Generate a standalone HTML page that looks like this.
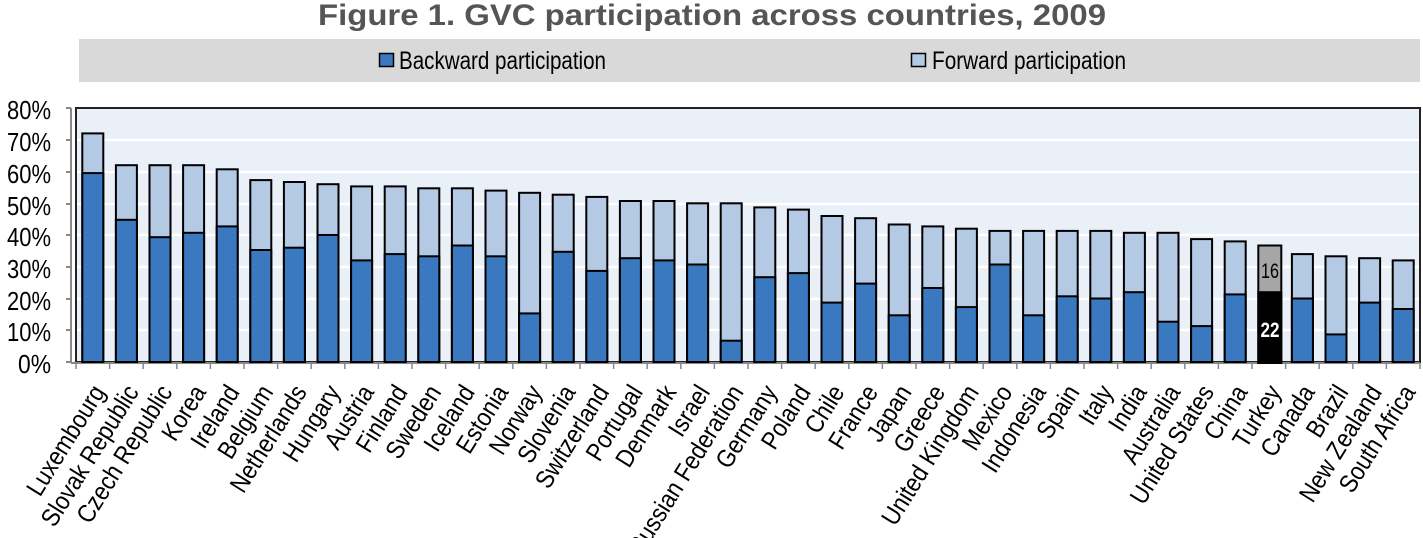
<!DOCTYPE html>
<html><head><meta charset="utf-8"><style>
html,body{margin:0;padding:0;background:#fff;}
svg{display:block;font-family:"Liberation Sans",Arial,sans-serif;}
</style></head><body>
<svg width="1423" height="538" viewBox="0 0 1423 538" xmlns="http://www.w3.org/2000/svg">
<text x="712" y="25" text-anchor="middle" font-size="30" font-weight="bold" fill="#555" textLength="788" lengthAdjust="spacingAndGlyphs">Figure 1. GVC participation across countries, 2009</text>
<rect x="79" y="39" width="1341" height="43" fill="#d9d9d9"/>
<rect x="379.5" y="53.5" width="14" height="13" fill="#3a78bf" stroke="#000" stroke-width="1.5"/>
<text x="399" y="69" font-size="25" fill="#000" textLength="207" lengthAdjust="spacingAndGlyphs">Backward participation</text>
<rect x="911.5" y="53.5" width="14" height="13" fill="#b4c9e4" stroke="#000" stroke-width="1.5"/>
<text x="932" y="69" font-size="25" fill="#000" textLength="194" lengthAdjust="spacingAndGlyphs">Forward participation</text>
<rect x="76" y="108" width="1344" height="254" fill="#eaf0f8"/>
<g stroke="#fff" stroke-width="2.5">
<line x1="76" x2="1420" y1="140" y2="140"/><line x1="76" x2="1420" y1="172" y2="172"/><line x1="76" x2="1420" y1="204" y2="204"/><line x1="76" x2="1420" y1="235" y2="235"/><line x1="76" x2="1420" y1="267" y2="267"/><line x1="76" x2="1420" y1="299" y2="299"/><line x1="76" x2="1420" y1="330" y2="330"/>
</g>
<rect x="76" y="108" width="1344" height="254" fill="none" stroke="#222" stroke-width="2"/>
<g stroke="#888" stroke-width="2">
<line x1="71" y1="108" x2="71" y2="362"/>
<line x1="66" x2="71" y1="108" y2="108"/><line x1="66" x2="71" y1="140" y2="140"/><line x1="66" x2="71" y1="172" y2="172"/><line x1="66" x2="71" y1="204" y2="204"/><line x1="66" x2="71" y1="235" y2="235"/><line x1="66" x2="71" y1="267" y2="267"/><line x1="66" x2="71" y1="299" y2="299"/><line x1="66" x2="71" y1="330" y2="330"/><line x1="66" x2="71" y1="362" y2="362"/>
<line x1="71" x2="1420" y1="363" y2="363"/>
</g>
<g font-size="26" text-anchor="end" fill="#000">
<text x="51" y="119" textLength="44" lengthAdjust="spacingAndGlyphs">80%</text>
<text x="51" y="151" textLength="44" lengthAdjust="spacingAndGlyphs">70%</text>
<text x="51" y="183" textLength="44" lengthAdjust="spacingAndGlyphs">60%</text>
<text x="51" y="215" textLength="44" lengthAdjust="spacingAndGlyphs">50%</text>
<text x="51" y="246" textLength="44" lengthAdjust="spacingAndGlyphs">40%</text>
<text x="51" y="278" textLength="44" lengthAdjust="spacingAndGlyphs">30%</text>
<text x="51" y="310" textLength="44" lengthAdjust="spacingAndGlyphs">20%</text>
<text x="51" y="341" textLength="44" lengthAdjust="spacingAndGlyphs">10%</text>
<text x="51" y="373" textLength="33" lengthAdjust="spacingAndGlyphs">0%</text>
</g>
<g stroke="#000" stroke-width="2">
<rect x="82.3" y="133.4" width="21" height="228.6" fill="#b4c9e4"/><rect x="82.3" y="173.1" width="21" height="188.9" fill="#3a78bf"/>
<rect x="115.9" y="165.2" width="21" height="196.8" fill="#b4c9e4"/><rect x="115.9" y="219.8" width="21" height="142.2" fill="#3a78bf"/>
<rect x="149.5" y="165.2" width="21" height="196.8" fill="#b4c9e4"/><rect x="149.5" y="237.2" width="21" height="124.8" fill="#3a78bf"/>
<rect x="183.1" y="165.2" width="21" height="196.8" fill="#b4c9e4"/><rect x="183.1" y="232.8" width="21" height="129.2" fill="#3a78bf"/>
<rect x="216.7" y="169.3" width="21" height="192.7" fill="#b4c9e4"/><rect x="216.7" y="226.4" width="21" height="135.6" fill="#3a78bf"/>
<rect x="250.3" y="180.1" width="21" height="181.9" fill="#b4c9e4"/><rect x="250.3" y="250.0" width="21" height="112" fill="#3a78bf"/>
<rect x="283.9" y="182.0" width="21" height="180" fill="#b4c9e4"/><rect x="283.9" y="247.7" width="21" height="114.3" fill="#3a78bf"/>
<rect x="317.5" y="184.2" width="21" height="177.8" fill="#b4c9e4"/><rect x="317.5" y="235.0" width="21" height="127" fill="#3a78bf"/>
<rect x="351.1" y="186.4" width="21" height="175.6" fill="#b4c9e4"/><rect x="351.1" y="260.4" width="21" height="101.6" fill="#3a78bf"/>
<rect x="384.7" y="186.4" width="21" height="175.6" fill="#b4c9e4"/><rect x="384.7" y="254.1" width="21" height="107.9" fill="#3a78bf"/>
<rect x="418.3" y="188.3" width="21" height="173.7" fill="#b4c9e4"/><rect x="418.3" y="256.3" width="21" height="105.7" fill="#3a78bf"/>
<rect x="451.9" y="188.3" width="21" height="173.7" fill="#b4c9e4"/><rect x="451.9" y="245.5" width="21" height="116.5" fill="#3a78bf"/>
<rect x="485.5" y="190.6" width="21" height="171.4" fill="#b4c9e4"/><rect x="485.5" y="256.3" width="21" height="105.7" fill="#3a78bf"/>
<rect x="519.1" y="192.8" width="21" height="169.2" fill="#b4c9e4"/><rect x="519.1" y="313.4" width="21" height="48.6" fill="#3a78bf"/>
<rect x="552.7" y="194.7" width="21" height="167.3" fill="#b4c9e4"/><rect x="552.7" y="251.8" width="21" height="110.2" fill="#3a78bf"/>
<rect x="586.3" y="196.9" width="21" height="165.1" fill="#b4c9e4"/><rect x="586.3" y="270.9" width="21" height="91.1" fill="#3a78bf"/>
<rect x="619.9" y="201.0" width="21" height="161" fill="#b4c9e4"/><rect x="619.9" y="258.2" width="21" height="103.8" fill="#3a78bf"/>
<rect x="653.5" y="201.0" width="21" height="161" fill="#b4c9e4"/><rect x="653.5" y="260.4" width="21" height="101.6" fill="#3a78bf"/>
<rect x="687.1" y="203.3" width="21" height="158.7" fill="#b4c9e4"/><rect x="687.1" y="264.5" width="21" height="97.5" fill="#3a78bf"/>
<rect x="720.7" y="203.3" width="21" height="158.7" fill="#b4c9e4"/><rect x="720.7" y="340.7" width="21" height="21.3" fill="#3a78bf"/>
<rect x="754.3" y="207.4" width="21" height="154.6" fill="#b4c9e4"/><rect x="754.3" y="277.2" width="21" height="84.8" fill="#3a78bf"/>
<rect x="787.9" y="209.6" width="21" height="152.4" fill="#b4c9e4"/><rect x="787.9" y="273.1" width="21" height="88.9" fill="#3a78bf"/>
<rect x="821.5" y="216.0" width="21" height="146" fill="#b4c9e4"/><rect x="821.5" y="302.6" width="21" height="59.4" fill="#3a78bf"/>
<rect x="855.1" y="218.2" width="21" height="143.8" fill="#b4c9e4"/><rect x="855.1" y="283.6" width="21" height="78.4" fill="#3a78bf"/>
<rect x="888.7" y="224.5" width="21" height="137.5" fill="#b4c9e4"/><rect x="888.7" y="315.3" width="21" height="46.7" fill="#3a78bf"/>
<rect x="922.3" y="226.4" width="21" height="135.6" fill="#b4c9e4"/><rect x="922.3" y="288.0" width="21" height="74" fill="#3a78bf"/>
<rect x="955.9" y="228.7" width="21" height="133.3" fill="#b4c9e4"/><rect x="955.9" y="307.1" width="21" height="54.9" fill="#3a78bf"/>
<rect x="989.5" y="230.9" width="21" height="131.1" fill="#b4c9e4"/><rect x="989.5" y="264.5" width="21" height="97.5" fill="#3a78bf"/>
<rect x="1023.1" y="230.9" width="21" height="131.1" fill="#b4c9e4"/><rect x="1023.1" y="315.3" width="21" height="46.7" fill="#3a78bf"/>
<rect x="1056.7" y="230.9" width="21" height="131.1" fill="#b4c9e4"/><rect x="1056.7" y="296.3" width="21" height="65.7" fill="#3a78bf"/>
<rect x="1090.3" y="230.9" width="21" height="131.1" fill="#b4c9e4"/><rect x="1090.3" y="298.5" width="21" height="63.5" fill="#3a78bf"/>
<rect x="1123.9" y="232.8" width="21" height="129.2" fill="#b4c9e4"/><rect x="1123.9" y="292.2" width="21" height="69.8" fill="#3a78bf"/>
<rect x="1157.5" y="232.8" width="21" height="129.2" fill="#b4c9e4"/><rect x="1157.5" y="321.7" width="21" height="40.3" fill="#3a78bf"/>
<rect x="1191.1" y="239.1" width="21" height="122.9" fill="#b4c9e4"/><rect x="1191.1" y="326.1" width="21" height="35.9" fill="#3a78bf"/>
<rect x="1224.7" y="241.4" width="21" height="120.6" fill="#b4c9e4"/><rect x="1224.7" y="294.4" width="21" height="67.6" fill="#3a78bf"/>
<rect x="1258.3" y="245.5" width="23" height="117.5" fill="#a6a6a6"/><rect x="1258.3" y="292.2" width="23" height="70.8" fill="#000"/>
<rect x="1291.9" y="254.1" width="21" height="107.9" fill="#b4c9e4"/><rect x="1291.9" y="298.5" width="21" height="63.5" fill="#3a78bf"/>
<rect x="1325.5" y="256.3" width="21" height="105.7" fill="#b4c9e4"/><rect x="1325.5" y="334.4" width="21" height="27.6" fill="#3a78bf"/>
<rect x="1359.1" y="258.2" width="21" height="103.8" fill="#b4c9e4"/><rect x="1359.1" y="302.6" width="21" height="59.4" fill="#3a78bf"/>
<rect x="1392.7" y="260.4" width="21" height="101.6" fill="#b4c9e4"/><rect x="1392.7" y="309.0" width="21" height="53" fill="#3a78bf"/>
</g>
<text x="1270" y="278" text-anchor="middle" font-size="21" fill="#000" textLength="18" lengthAdjust="spacingAndGlyphs">16</text>
<text x="1270" y="337" text-anchor="middle" font-size="21" font-weight="bold" fill="#fff" textLength="19" lengthAdjust="spacingAndGlyphs">22</text>
<g stroke="#888" stroke-width="1.5">
<line x1="76" x2="76" y1="363" y2="369"/><line x1="109.6" x2="109.6" y1="363" y2="369"/><line x1="143.2" x2="143.2" y1="363" y2="369"/><line x1="176.8" x2="176.8" y1="363" y2="369"/><line x1="210.4" x2="210.4" y1="363" y2="369"/><line x1="244" x2="244" y1="363" y2="369"/><line x1="277.6" x2="277.6" y1="363" y2="369"/><line x1="311.2" x2="311.2" y1="363" y2="369"/><line x1="344.8" x2="344.8" y1="363" y2="369"/><line x1="378.4" x2="378.4" y1="363" y2="369"/><line x1="412" x2="412" y1="363" y2="369"/><line x1="445.6" x2="445.6" y1="363" y2="369"/><line x1="479.2" x2="479.2" y1="363" y2="369"/><line x1="512.8" x2="512.8" y1="363" y2="369"/><line x1="546.4" x2="546.4" y1="363" y2="369"/><line x1="580" x2="580" y1="363" y2="369"/><line x1="613.6" x2="613.6" y1="363" y2="369"/><line x1="647.2" x2="647.2" y1="363" y2="369"/><line x1="680.8" x2="680.8" y1="363" y2="369"/><line x1="714.4" x2="714.4" y1="363" y2="369"/><line x1="748" x2="748" y1="363" y2="369"/><line x1="781.6" x2="781.6" y1="363" y2="369"/><line x1="815.2" x2="815.2" y1="363" y2="369"/><line x1="848.8" x2="848.8" y1="363" y2="369"/><line x1="882.4" x2="882.4" y1="363" y2="369"/><line x1="916" x2="916" y1="363" y2="369"/><line x1="949.6" x2="949.6" y1="363" y2="369"/><line x1="983.2" x2="983.2" y1="363" y2="369"/><line x1="1016.8" x2="1016.8" y1="363" y2="369"/><line x1="1050.4" x2="1050.4" y1="363" y2="369"/><line x1="1084" x2="1084" y1="363" y2="369"/><line x1="1117.6" x2="1117.6" y1="363" y2="369"/><line x1="1151.2" x2="1151.2" y1="363" y2="369"/><line x1="1184.8" x2="1184.8" y1="363" y2="369"/><line x1="1218.4" x2="1218.4" y1="363" y2="369"/><line x1="1252" x2="1252" y1="363" y2="369"/><line x1="1285.6" x2="1285.6" y1="363" y2="369"/><line x1="1319.2" x2="1319.2" y1="363" y2="369"/><line x1="1352.8" x2="1352.8" y1="363" y2="369"/><line x1="1386.4" x2="1386.4" y1="363" y2="369"/><line x1="1420" x2="1420" y1="363" y2="369"/>
</g>
<g font-size="25.5" text-anchor="end" fill="#000">
<text transform="translate(106,392) rotate(-58) scale(0.88,1)">Luxembourg</text>
<text transform="translate(139.6,392) rotate(-58) scale(0.88,1)">Slovak Republic</text>
<text transform="translate(173.2,392) rotate(-58) scale(0.88,1)">Czech Republic</text>
<text transform="translate(206.8,392) rotate(-58) scale(0.88,1)">Korea</text>
<text transform="translate(240.4,392) rotate(-58) scale(0.88,1)">Ireland</text>
<text transform="translate(274,392) rotate(-58) scale(0.88,1)">Belgium</text>
<text transform="translate(307.6,392) rotate(-58) scale(0.88,1)">Netherlands</text>
<text transform="translate(341.2,392) rotate(-58) scale(0.88,1)">Hungary</text>
<text transform="translate(374.8,392) rotate(-58) scale(0.88,1)">Austria</text>
<text transform="translate(408.4,392) rotate(-58) scale(0.88,1)">Finland</text>
<text transform="translate(442,392) rotate(-58) scale(0.88,1)">Sweden</text>
<text transform="translate(475.6,392) rotate(-58) scale(0.88,1)">Iceland</text>
<text transform="translate(509.2,392) rotate(-58) scale(0.88,1)">Estonia</text>
<text transform="translate(542.8,392) rotate(-58) scale(0.88,1)">Norway</text>
<text transform="translate(576.4,392) rotate(-58) scale(0.88,1)">Slovenia</text>
<text transform="translate(610,392) rotate(-58) scale(0.88,1)">Switzerland</text>
<text transform="translate(643.6,392) rotate(-58) scale(0.88,1)">Portugal</text>
<text transform="translate(677.2,392) rotate(-58) scale(0.88,1)">Denmark</text>
<text transform="translate(710.8,392) rotate(-58) scale(0.88,1)">Israel</text>
<text transform="translate(744.4,392) rotate(-58) scale(0.88,1)">Russian Federation</text>
<text transform="translate(778,392) rotate(-58) scale(0.88,1)">Germany</text>
<text transform="translate(811.6,392) rotate(-58) scale(0.88,1)">Poland</text>
<text transform="translate(845.2,392) rotate(-58) scale(0.88,1)">Chile</text>
<text transform="translate(878.8,392) rotate(-58) scale(0.88,1)">France</text>
<text transform="translate(912.4,392) rotate(-58) scale(0.88,1)">Japan</text>
<text transform="translate(946,392) rotate(-58) scale(0.88,1)">Greece</text>
<text transform="translate(979.6,392) rotate(-58) scale(0.88,1)">United Kingdom</text>
<text transform="translate(1013.2,392) rotate(-58) scale(0.88,1)">Mexico</text>
<text transform="translate(1046.8,392) rotate(-58) scale(0.88,1)">Indonesia</text>
<text transform="translate(1080.4,392) rotate(-58) scale(0.88,1)">Spain</text>
<text transform="translate(1114,392) rotate(-58) scale(0.88,1)">Italy</text>
<text transform="translate(1147.6,392) rotate(-58) scale(0.88,1)">India</text>
<text transform="translate(1181.2,392) rotate(-58) scale(0.88,1)">Australia</text>
<text transform="translate(1214.8,392) rotate(-58) scale(0.88,1)">United States</text>
<text transform="translate(1248.4,392) rotate(-58) scale(0.88,1)">China</text>
<text transform="translate(1282,392) rotate(-58) scale(0.88,1)">Turkey</text>
<text transform="translate(1315.6,392) rotate(-58) scale(0.88,1)">Canada</text>
<text transform="translate(1349.2,392) rotate(-58) scale(0.88,1)">Brazil</text>
<text transform="translate(1382.8,392) rotate(-58) scale(0.88,1)">New Zealand</text>
<text transform="translate(1416.4,392) rotate(-58) scale(0.88,1)">South Africa</text>
</g>
</svg>
</body></html>
